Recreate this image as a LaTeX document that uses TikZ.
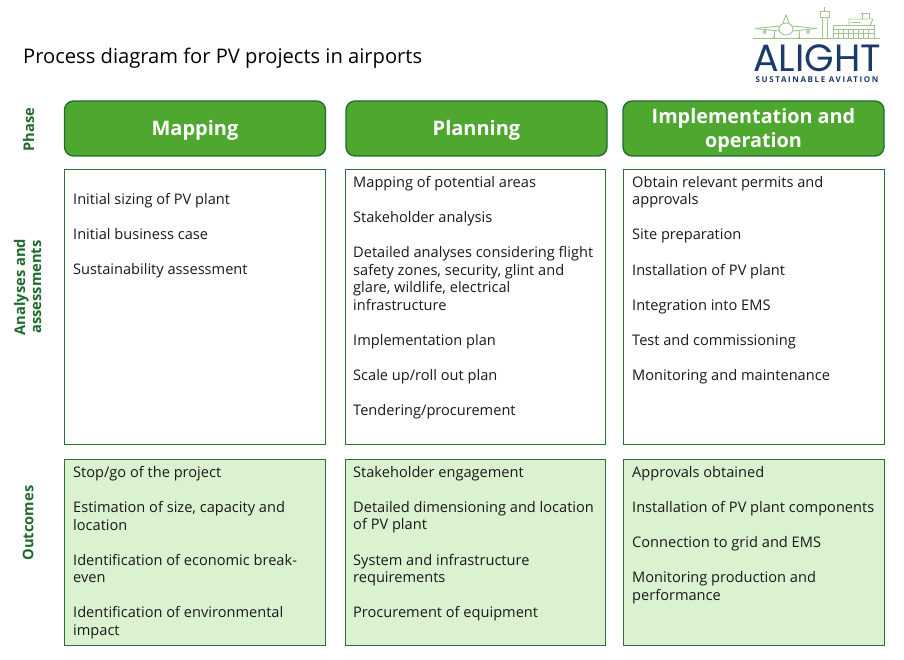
\documentclass[tikz,border=0pt]{standalone}
\usepackage{fontspec}
\setmainfont{Open Sans}
\newfontfamily\logofont{Poppins}
\newfontfamily\logosmall[LetterSpace=20]{Open Sans}
\definecolor{phasefill}{HTML}{4EA72E}
\definecolor{phaseedge}{HTML}{1E6B2E}
\definecolor{rowlabel}{HTML}{1F6B2C}
\definecolor{outfill}{HTML}{DAF2D0}
\definecolor{boxedge}{HTML}{2A7038}
\definecolor{navy}{HTML}{1B3A6B}
\definecolor{logogreen}{HTML}{A0C390}
\tikzset{
  x=1pt,y=-1pt,
  phasebox/.style={draw=phaseedge,line width=1.3pt,fill=phasefill,rounded corners=9pt,text=white,align=center,font=\fontsize{20}{24}\selectfont\bfseries,inner sep=0pt,minimum width=261,minimum height=55},
  cellbox/.style={draw=boxedge,line width=0.9pt,fill=white},
  outbox/.style={draw=boxedge,line width=0.9pt,fill=outfill},
  celltext/.style={anchor=north west,align=left,inner sep=0pt,text=black!90,font=\fontsize{14.6}{17.55}\selectfont},
  rowtext/.style={rotate=90,align=center,text=rowlabel,font=\fontsize{14.7}{16}\selectfont\bfseries,inner sep=0pt},
  logoline/.style={draw=logogreen,line width=0.9pt},
}
\begin{document}
\begin{tikzpicture}
\useasboundingbox (0,0) rectangle (904,660);
\node[anchor=west,inner sep=0pt,font=\fontsize{20.15}{24}\selectfont] (title) at (23,58) {Process diagram for PV projects in airports};

% Logo
\draw[logoline] (753,38) -- (880,38);
\draw[logoline] (786,29) ellipse (7 and 6);
\draw[logoline] (755,28.5) -- (779.5,26) (792.5,26) -- (817,28.5);
\draw[logoline] (755,28.5) -- (779.5,31) (792.5,31) -- (817,28.5);
\draw[logoline] (783,23) -- (786,15) -- (789,23);
\draw[logoline] (774,31) -- (774,37) (799,31) -- (799,37) (773,37) -- (775,37) (798,37) -- (800,37);
\draw[logoline] (764.5,32) circle (1.6) (808,32) circle (1.6);
\draw[logoline] (822,38) -- (822,17) (827,38) -- (827,17);
\draw[logoline] (820,11.5) rectangle (829,17);
\draw[logoline] (824.5,11.5) -- (824.5,7);
\draw[logoline] (833,38) rectangle (874,25.5);
\draw[logoline] (833,29) -- (874,29) (833,33) -- (874,33);
\foreach \lx in {838,843,848,853,858,863,868} {\draw[logoline] (\lx,29) -- (\lx,38);}
\draw[logoline] (849,25.5) -- (849,19) -- (873,19) -- (870,25.5);
\draw[logoline] (851,22) -- (860,22);
\draw[logoline] (862,19) -- (862,13) (869,19) -- (869,13) (861,13) -- (870,13);
\node[anchor=center,inner sep=0pt,text=navy,font=\logofont\fontsize{38}{38}\selectfont] (logoname) at (817,58) {ALIGHT};
\node[anchor=center,inner sep=0pt,text=navy,font=\logosmall\fontsize{8}{8}\selectfont\bfseries] (logosub) at (817,80) {SUSTAINABLE AVIATION};

% Row labels
\node[rowtext] (rowphase) at (28.5,129.5) {Phase};
\node[rowtext] (rowanalyses) at (27.5,287) {Analyses and\\assessments};
\node[rowtext] (rowoutcomes) at (28,523) {Outcomes};

% Phases
\node[phasebox] (ph1) at (195,128.5) {\raisebox{-2pt}[\height][\depth]{Mapping\vphantom{Pg}}};
\node[phasebox] (ph2) at (476.5,128.5) {\raisebox{-2pt}[\height][\depth]{Planning\vphantom{Pg}}};
\node[phasebox] (ph3) at (753.5,128.5) {\raisebox{-2pt}[\height][\depth]{\begin{tabular}{@{}c@{}}\fontsize{19.8}{24}\selectfont Implementation and\\\fontsize{19.8}{24}\selectfont operation\end{tabular}}};

% Analyses
\draw[cellbox] (64.5,169.5) rectangle (325.5,444.5);
\draw[cellbox] (345.5,169.5) rectangle (605.5,444.5);
\draw[cellbox] (623.5,169.5) rectangle (884.5,444.5);
\node[celltext] (a1) at (73,193) {Initial sizing of PV plant\\[17.6pt]Initial business case\\[17.6pt]Sustainability assessment};
\node[celltext] (a2) at (353,176) {Mapping of potential areas\\[17.6pt]Stakeholder analysis\\[17.6pt]Detailed analyses considering flight\\safety zones, security, glint and\\glare, wildlife, electrical\\infrastructure\\[17.6pt]Implementation plan\\[17.6pt]Scale up/roll out plan\\[17.6pt]Tendering/procurement};
\node[celltext] (a3) at (632,176) {Obtain relevant permits and\\approvals\\[17.6pt]Site preparation\\[17.6pt]Installation of PV plant\\[17.6pt]Integration into EMS\\[17.6pt]Test and commissioning\\[17.6pt]Monitoring and maintenance};

% Outcomes
\draw[outbox] (64.5,459.5) rectangle (325.5,645.5);
\draw[outbox] (345.5,459.5) rectangle (605.5,645.5);
\draw[outbox] (623.5,459.5) rectangle (884.5,645.5);
\node[celltext] (o1) at (73,466) {Stop/go of the project\\[17.6pt]Estimation of size, capacity and\\location\\[17.6pt]Identification of economic break-\\even\\[17.6pt]Identification of environmental\\impact};
\node[celltext] (o2) at (353,466) {Stakeholder engagement\\[17.6pt]Detailed dimensioning and location\\of PV plant\\[17.6pt]System and infrastructure\\requirements\\[17.6pt]Procurement of equipment};
\node[celltext] (o3) at (632,466) {Approvals obtained\\[17.6pt]Installation of PV plant components\\[17.6pt]Connection to grid and EMS\\[17.6pt]Monitoring production and\\performance};
\end{tikzpicture}
\end{document}
